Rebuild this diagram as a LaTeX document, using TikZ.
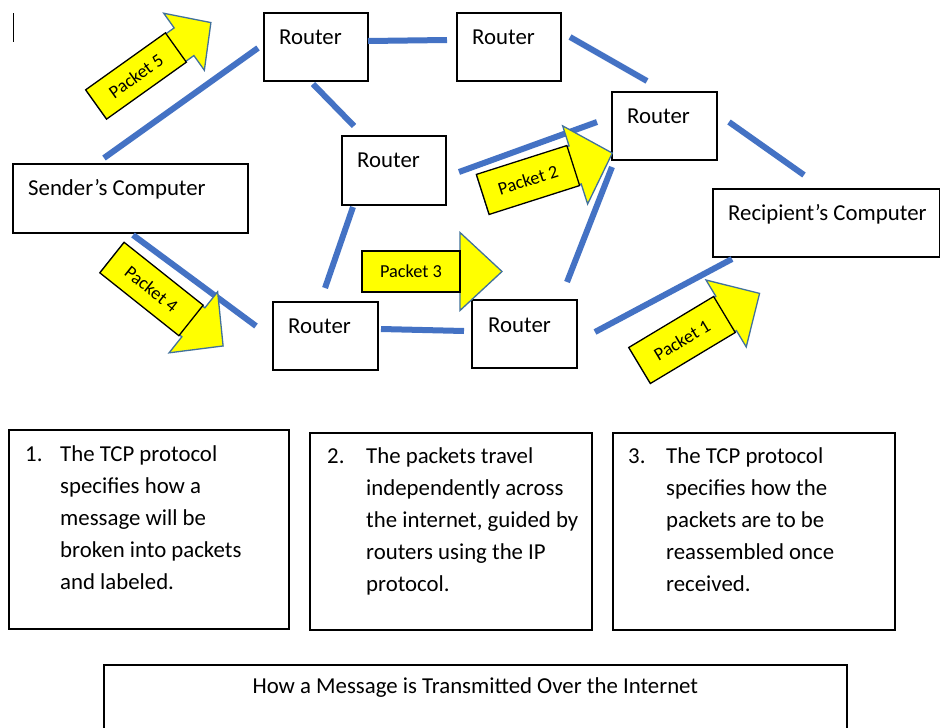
\documentclass[tikz,border=0pt]{standalone}
\usepackage{fontspec}
\setmainfont{Carlito}
\usetikzlibrary{calc}
\definecolor{linkblue}{HTML}{4472C4}
\definecolor{pyellow}{HTML}{FFFF00}
\definecolor{arrowedge}{HTML}{41719C}
\tikzset{
  pics/packet/.style n args={6}{code={
    \path[fill=pyellow, draw=arrowedge, line width=1.3pt, line join=miter]
      (-#2/2,-#3/2+1) -- (#2/2+#6,-#3/2+1) -- (#2/2+#6,-#4/2) -- (#2/2+#6+#5,0)
      -- (#2/2+#6,#4/2) -- (#2/2+#6,#3/2-1) -- (-#2/2,#3/2-1) -- cycle;
    \path[fill=pyellow, draw=black, line width=1.3pt]
      (-#2/2,-#3/2) -- (#2/2,-#3/2) -- (#2/2,#3/2) -- (-#2/2,#3/2) -- cycle;
    \node[transform shape, font=\fontsize{18.3}{22}\selectfont, inner sep=0pt] (-t) at (0,0) {#1};
  }}
}
\begin{document}
\begin{tikzpicture}[x=1pt,y=-1pt,
  box/.style={draw=black, line width=1.6pt, fill=white, inner sep=0pt, anchor=north west},
  lab/.style={anchor=base west, inner sep=0pt, font=\fontsize{22.8}{27}\selectfont},
  link/.style={draw=linkblue, line width=6pt}]
\useasboundingbox (0,0) rectangle (940,728);
\fill[white] (0,0) rectangle (940,728);

% cursor mark
\draw[line width=1pt] (13,13) -- (13,42);

% network nodes
\node[box, minimum width=235pt, minimum height=69pt] (sender) at (12,163) {};
\node[box, minimum width=227pt, minimum height=68pt] (rec) at (712,188) {};
\node[box, minimum width=104pt, minimum height=68pt] (r1) at (263,12) {};
\node[box, minimum width=104pt, minimum height=68pt] (r2) at (456,12) {};
\node[box, minimum width=105pt, minimum height=68pt] (r3) at (611,91) {};
\node[box, minimum width=104pt, minimum height=69pt] (r4) at (341,135) {};
\node[box, minimum width=105pt, minimum height=68pt] (r5) at (272,301) {};
\node[box, minimum width=105pt, minimum height=68pt] (r6) at (471,299) {};

\node[lab] (sendert) at ($(sender.north west)+(16,32)$) {Sender’s Computer};
\node[lab] (rect) at ($(rec.north west)+(16,32)$) {Recipient’s Computer};
\node[lab] (r1t) at ($(r1.north west)+(16,32)$) {Router};
\node[lab] (r2t) at ($(r2.north west)+(16,32)$) {Router};
\node[lab] (r3t) at ($(r3.north west)+(16,32)$) {Router};
\node[lab] (r4t) at ($(r4.north west)+(16,32)$) {Router};
\node[lab] (r5t) at ($(r5.north west)+(16,32)$) {Router};
\node[lab] (r6t) at ($(r6.north west)+(17,33)$) {Router};

% connectors
\draw[link] ($(sender.north west)+(92,-5)$) -- ($(r1.north west)+(-5,36)$);
\draw[link] ($(r1.north west)+(105,29)$) -- ($(r2.north west)+(-9,28)$);
\draw[link] ($(r2.north west)+(114,25)$) -- ($(r3.north west)+(36,-10)$);
\draw[link] ($(r1.north west)+(50,72)$) -- ($(r4.north west)+(13,-9)$);
\draw[link] ($(r3.north west)+(118,31)$) -- ($(rec.north west)+(92,-13)$);
\draw[link] ($(r4.north west)+(118,37)$) -- ($(r3.north west)+(-14,31)$);
\draw[link] ($(r4.north west)+(12,72)$) -- ($(r5.north west)+(53,-13)$);
\draw[link] ($(sender.north west)+(121,72)$) -- ($(r5.north west)+(-16,25)$);
\draw[link] ($(r5.north west)+(109,28)$) -- ($(r6.north west)+(-7,32)$);
\draw[link] ($(r6.north west)+(96,-17)$) -- ($(r3.north west)+(1,76)$);
\draw[link] ($(r6.north west)+(124,33)$) -- ($(rec.north west)+(20,71)$);

% packets
\pic[rotate=35.5] (p5) at (136,76) {packet={Packet 5}{98}{36}{70}{33}{10}};
\pic[rotate=-38.5] (p4) at (151.5,289) {packet={Packet 4}{101}{39}{78}{38}{3}};
\pic (p3) at (411,271.5) {packet={Packet 3}{98}{41}{78}{42}{0}};
\pic[rotate=17.7] (p2) at (528,180) {packet={Packet 2}{95}{42}{82}{39}{2}};
\pic[rotate=31] (p1) at (682,340) {packet={Packet 1}{99}{42}{78}{39}{2}};

% text boxes
\node[box, minimum width=280pt, minimum height=199pt] (b1) at (8,429) {};
\node[box, minimum width=282pt, minimum height=197pt] (b2) at (309,432) {};
\node[box, minimum width=282pt, minimum height=197pt] (b3) at (612,432) {};

\node[lab] (b1n) at ($(b1.north west)+(17,32)$) {1.};
\foreach \t [count=\i] in {The TCP protocol, specifies how a, message will be, broken into packets, and labeled.}
  \node[lab] (b1l\i) at ($(b1.north west)+(52,32*\i)$) {\t};

\node[lab] (b2n) at ($(b2.north west)+(18,31)$) {2.};
\foreach \t [count=\i] in {The packets travel, independently across, {the internet, guided by}, routers using the IP, protocol.}
  \node[lab] (b2l\i) at ($(b2.north west)+(57,32*\i-1)$) {\t};

\node[lab] (b3n) at ($(b3.north west)+(16,31)$) {3.};
\foreach \t [count=\i] in {The TCP protocol, specifies how the, packets are to be, reassembled once, received.}
  \node[lab] (b3l\i) at ($(b3.north west)+(54,32*\i-1)$) {\t};

% title
\node[box, minimum width=743pt, minimum height=90pt] (title) at (103,664) {};
\node[lab, anchor=base] (titlet) at ($(title.north)+(0,29)$) {How a Message is Transmitted Over the Internet};
\end{tikzpicture}
\end{document}
